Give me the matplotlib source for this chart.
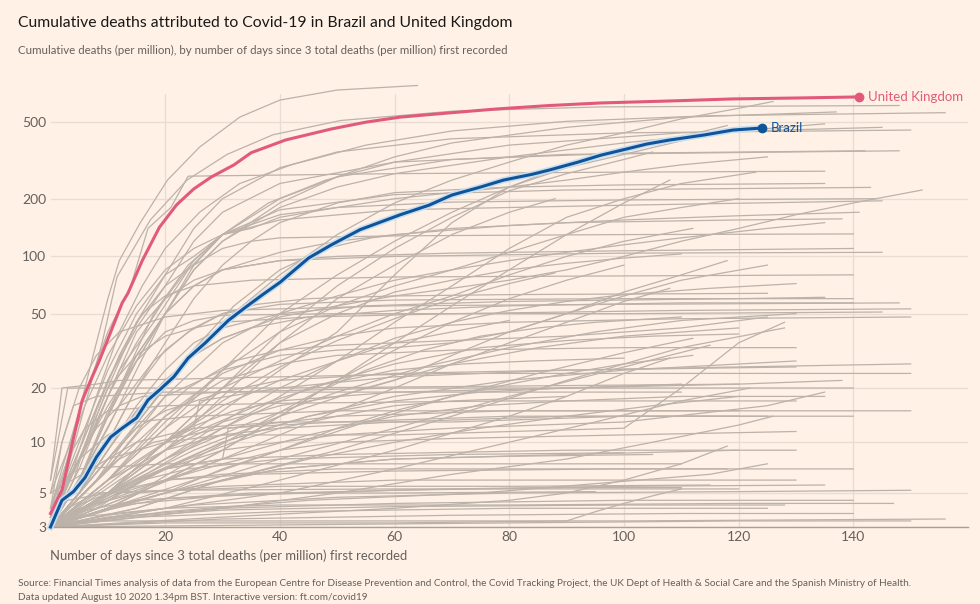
"""
Cumulative Covid-19 deaths per million, Brazil and UK against other countries
"""

import numpy as np
import matplotlib
matplotlib.use("Agg")
import matplotlib.pyplot as plt
import matplotlib.patheffects as pe

# Highlighted countries (day since 3 deaths per million, deaths per million)
uk_days = [0, 2, 4, 5.5, 7, 8.5, 10.5, 12.5, 13.5, 16, 19, 22, 25, 28, 32, 35, 41, 49, 55, 61, 70, 78, 87, 96, 108, 119, 131, 141]
uk_values = [3.7, 5.2, 10.5, 17, 22, 28, 40, 57, 64, 95, 142, 186, 225, 259, 300, 347, 404, 461, 500, 531, 560, 586, 610, 629, 644, 660, 668, 676]

brazil_days = [0, 2, 4, 6, 8, 10.5, 12.5, 15, 17, 19, 21.5, 24, 27, 31, 34, 37, 40, 45, 49, 54, 61, 66, 70, 75, 79, 84, 87, 92, 96, 100, 104, 108, 114, 119, 124]
brazil_values = [3, 4.5, 5.1, 6.2, 8.2, 10.7, 12, 13.7, 17.2, 19.5, 23, 29, 35, 46, 54, 63, 73, 98, 115, 138, 165, 185, 209, 230, 250, 268, 282, 310, 337, 360, 385, 404, 429, 455, 466]

# All other countries, (day, deaths per million)
other_countries = [
    [(0, 3.5), (2, 6), (4, 11), (6, 20), (8, 35), (10, 60), (12, 95), (15.6, 149), (20.4, 250), (26, 371), (33, 531), (40, 651), (50, 734), (64, 775)],
    [(0, 3.2), (3, 7), (6, 16), (9, 35), (11.6, 78), (17.4, 155), (23.8, 250), (30.8, 340), (38.8, 430), (50.6, 510), (70, 570), (96, 600), (148, 610)],
    [(0, 3), (4, 7), (8, 18), (12, 40), (16, 70), (20, 110), (26, 170), (33, 240), (42, 300), (55, 380), (70, 450), (90, 505), (115, 540), (156, 560)],
    [(0, 3.5), (6, 9), (12, 25), (18, 45), (24, 85), (30, 130), (38, 190), (48, 250), (60, 310), (80, 380), (110, 440), (145, 470)],
    [(0, 3), (10, 8), (20, 20), (30, 45), (40, 80), (50, 130), (60, 190), (70, 250), (80, 310), (90, 380), (100, 440), (110, 520), (120, 590), (126, 640)],
    [(0, 3), (5, 6), (10, 12), (15, 25), (20, 50), (25, 85), (30, 120), (40, 190), (50, 260), (60, 330), (70, 390), (90, 470), (110, 530), (137, 565)],
    [(0, 3), (10, 5), (20, 9), (30, 15), (40, 25), (50, 40), (60, 80), (70, 150), (80, 230), (90, 300), (100, 360), (110, 420), (118, 480)],
    [(0, 3), (5, 6), (10, 14), (15, 28), (20, 50), (25, 85), (30, 120), (40, 180), (50, 230), (60, 270), (80, 330), (100, 390), (120, 450), (135, 490)],
    [(0, 3.3), (5, 8), (10, 20), (15, 45), (20, 80), (25, 140), (30, 200), (40, 290), (50, 350), (70, 410), (100, 440), (150, 455)],
    [(0, 3.5), (5, 9), (10, 22), (15, 42), (20, 70), (25, 120), (30, 170), (40, 240), (60, 310), (90, 340), (148, 355)],
    [(0, 3), (5, 6), (10, 14), (15, 28), (20, 50), (25, 90), (30, 130), (40, 200), (50, 260), (70, 320), (100, 345), (142, 355)],
    [(0, 3), (10, 6), (20, 12), (30, 25), (40, 50), (50, 80), (60, 120), (70, 170), (80, 230), (90, 290), (100, 340), (110, 400)],
    [(0, 3.5), (5, 10), (10, 25), (15, 50), (20, 80), (25, 100), (30, 130), (35, 140), (40, 160), (50, 180), (60, 200), (70, 215), (80, 230), (90, 250), (100, 275), (110, 300), (125, 330)],
    [(0, 3), (10, 5), (20, 10), (30, 20), (40, 40), (50, 70), (60, 110), (70, 160), (80, 220), (90, 270), (100, 320), (105, 350)],
    [(0, 4), (5, 15), (10, 40), (14, 70), (17, 140), (21, 180), (24, 262), (60, 270), (100, 275), (135, 278)],
    [(0, 3), (5, 5), (10, 9), (15, 15), (20, 22), (25, 30), (30, 37), (40, 48), (50, 55), (60, 62), (70, 68), (80, 75), (90, 85), (100, 100), (110, 120), (120, 140), (130, 165), (140, 190), (152, 222)],
    [(0, 3.5), (5, 8), (10, 18), (15, 35), (20, 60), (25, 95), (30, 130), (40, 175), (60, 210), (90, 222), (143, 229)],
    [(0, 3), (6, 7), (12, 20), (18, 50), (24, 90), (30, 130), (40, 165), (50, 180), (70, 192), (100, 197), (144, 200)],
    [(0, 3), (5, 5), (10, 10), (15, 20), (20, 35), (25, 60), (30, 90), (35, 120), (40, 150), (50, 190), (60, 215), (80, 230), (100, 236), (135, 240)],
    [(0, 3), (10, 5), (20, 8), (30, 12), (40, 18), (50, 28), (60, 45), (70, 70), (80, 110), (90, 160), (100, 200), (110, 240), (123, 275)],
    [(0, 3), (10, 6), (20, 13), (30, 25), (40, 40), (50, 55), (60, 70), (70, 85), (80, 105), (90, 130), (100, 160), (110, 180), (120, 200)],
    [(0, 3), (10, 4), (20, 6), (30, 9), (40, 14), (50, 22), (60, 35), (70, 55), (80, 85), (90, 130), (100, 190), (108, 250)],
    [(0, 3), (10, 5), (20, 9), (30, 18), (40, 35), (50, 60), (60, 90), (70, 130), (80, 170), (88, 200)],
    [(0, 3), (5, 6), (10, 15), (15, 30), (20, 50), (25, 70), (30, 85), (40, 105), (50, 120), (60, 130), (80, 145), (100, 155), (120, 163), (141, 170)],
    [(0, 5), (3, 9), (6, 16), (10, 30), (15, 55), (20, 85), (25, 110), (30, 130), (40, 155), (60, 175), (100, 185), (145, 195)],
    [(0, 3), (8, 6), (16, 14), (24, 30), (32, 55), (40, 85), (48, 110), (56, 125), (70, 140), (90, 150), (120, 155), (138, 157)],
    [(0, 3), (10, 6), (20, 12), (30, 20), (40, 28), (50, 38), (60, 50), (70, 62), (80, 80), (90, 100), (100, 120), (112, 140)],
    [(0, 3), (10, 7), (20, 18), (30, 35), (40, 50), (50, 62), (60, 75), (70, 85), (80, 95), (90, 105), (100, 115), (110, 125), (125, 140), (135, 150)],
    [(0, 3.5), (5, 9), (10, 22), (15, 45), (20, 70), (25, 90), (30, 110), (35, 120), (40, 125), (60, 128), (100, 130), (140, 131)],
    [(0, 3), (5, 6), (10, 14), (15, 30), (20, 50), (25, 70), (30, 85), (40, 95), (50, 100), (70, 104), (100, 107), (140, 110)],
    [(0, 3), (5, 7), (10, 18), (15, 40), (20, 60), (25, 75), (30, 85), (40, 95), (60, 100), (100, 104), (145, 105)],
    [(0, 3), (4, 6), (8, 15), (12, 30), (16, 50), (20, 62), (25, 70), (35, 75), (60, 78), (100, 79), (140, 80)],
    [(0, 3), (10, 5), (20, 10), (30, 20), (40, 35), (50, 50), (60, 65), (70, 75), (80, 85), (90, 92), (100, 98), (110, 103)],
    [(0, 3), (10, 5), (20, 8), (30, 13), (40, 20), (50, 28), (60, 37), (70, 45), (80, 52), (90, 58), (100, 63), (115, 68), (130, 72)],
    [(0, 4), (2, 10), (5, 20), (8, 30), (12, 40), (20, 48), (30, 52), (60, 55), (100, 56), (148, 57)],
    [(0, 3), (5, 5), (10, 9), (15, 16), (20, 25), (25, 35), (30, 42), (40, 50), (55, 55), (80, 58), (120, 60), (135, 61)],
    [(0, 5), (10, 8), (20, 10), (30, 11), (60, 11), (100, 12), (110, 20), (120, 35), (128, 45)],
    [(0, 3), (15, 5), (25, 8), (35, 12), (45, 18), (55, 25), (65, 32), (75, 38), (85, 42), (95, 45), (110, 48)],
    [(0, 3), (10, 6), (20, 14), (30, 24), (40, 32), (50, 38), (60, 42), (80, 45), (110, 47), (150, 48)],
    [(0, 3), (8, 6), (16, 12), (24, 20), (32, 28), (40, 32), (50, 34), (70, 36), (90, 38), (110, 42), (125, 48)],
    [(0, 3), (5, 5), (10, 9), (15, 15), (20, 22), (25, 30), (30, 37), (35, 42), (45, 48), (60, 52), (80, 55), (110, 57), (140, 57)],
    [(0, 3), (10, 5), (20, 9), (30, 13), (40, 16), (50, 18), (60, 22), (70, 30), (80, 40), (90, 50), (100, 62), (110, 75), (125, 90)],
    [(0, 3), (10, 4), (20, 6), (30, 9), (40, 14), (50, 22), (60, 32), (70, 45), (80, 60), (90, 75), (100, 90)],
    [(0, 3), (10, 5), (20, 10), (30, 17), (40, 26), (50, 36), (60, 47), (70, 60), (80, 72), (88, 82)],
    [(0, 3.5), (5, 8), (10, 16), (15, 28), (20, 40), (25, 46), (30, 49), (50, 50), (100, 50), (145, 51)],
    [(0, 3), (5, 5), (10, 10), (15, 20), (20, 32), (25, 42), (30, 50), (40, 56), (60, 59), (100, 60), (140, 60)],
    [(0, 3), (6, 7), (12, 16), (18, 28), (24, 40), (30, 50), (36, 56), (45, 60), (60, 62), (80, 63), (125, 64)],
    [(0, 3), (10, 8), (20, 18), (30, 25), (40, 30), (50, 32), (60, 33), (70, 35), (80, 40), (90, 50), (100, 65), (110, 80), (118, 95)],
    [(0, 3), (15, 6), (30, 12), (45, 20), (60, 27), (75, 33), (90, 36), (105, 38), (120, 39)],
    [(0, 3), (10, 5), (20, 10), (30, 16), (40, 22), (50, 28), (60, 35), (70, 40), (80, 46)],
    [(0, 3), (10, 4), (20, 6), (30, 8), (40, 11), (50, 15), (60, 20), (70, 27), (80, 35), (90, 45), (100, 58), (108, 68)],
    [(0, 6), (2, 20), (8, 21), (12, 22), (40, 23), (70, 24), (110, 24), (150, 24)],
    [(0, 3), (5, 8), (10, 20), (15, 30), (20, 38), (25, 42), (30, 45), (45, 48), (70, 50), (110, 52), (150, 53)],
    [(0, 3), (5, 5), (10, 8), (15, 12), (20, 15), (30, 19), (40, 22), (60, 24), (90, 25), (130, 26)],
    [(0, 3), (10, 4), (20, 5), (30, 7), (40, 9), (50, 12), (60, 15), (70, 18), (80, 21), (90, 24), (100, 27), (112, 30)],
    [(0, 3.5), (4, 7), (8, 12), (12, 16), (16, 18), (30, 19), (60, 20), (100, 20), (140, 20)],
    [(0, 6), (1, 9), (3, 20), (40, 20), (120, 21)],
    [(0, 3), (15, 5), (30, 8), (45, 11), (60, 14), (75, 16), (90, 17), (110, 18), (135, 18)],
    [(0, 3), (10, 6), (20, 9), (30, 11), (40, 12), (60, 13), (90, 14), (125, 14)],
    [(0, 3), (20, 4), (40, 6), (60, 9), (80, 14), (90, 18), (100, 24), (108, 29)],
    [(0, 3), (8, 5), (16, 8), (24, 12), (32, 15), (40, 17), (60, 19), (90, 20), (120, 21), (138, 22)],
    [(0, 4), (5, 8), (10, 11), (15, 13), (25, 14), (50, 15), (100, 15), (150, 15)],
    [(0, 3), (10, 7), (20, 14), (30, 22), (40, 27), (50, 30), (70, 32), (100, 33), (130, 33)],
    [(0, 3), (6, 5), (12, 8), (18, 10), (30, 12), (50, 13), (80, 14), (120, 14)],
    [(0, 3), (10, 5), (20, 7), (30, 9), (40, 10), (50, 11), (70, 12), (100, 13), (125, 16), (135, 19)],
    [(0, 3), (20, 7), (30, 8), (31, 12), (50, 14), (80, 15), (120, 15)],
    [(0, 3), (12, 6), (24, 11), (36, 16), (48, 21), (60, 25), (72, 27), (84, 28), (100, 29)],
    [(0, 5), (2, 10), (4, 16), (8, 18), (20, 19), (60, 19), (110, 19)],
    [(0, 3), (15, 4), (30, 6), (45, 8), (60, 10), (75, 12), (90, 14), (105, 16), (120, 18)],
    [(0, 3), (5, 5), (10, 8), (15, 10), (25, 12), (40, 13), (70, 13), (100, 14), (140, 14)],
    [(0, 3), (10, 4.5), (20, 7), (30, 10), (45, 14), (60, 17), (75, 19), (90, 20), (110, 21)],
    [(0, 3), (10, 6), (20, 10), (25, 12), (26, 17), (40, 20), (60, 23), (90, 25), (120, 26), (150, 27)],
    [(0, 4), (3, 8), (6, 12), (10, 15), (20, 16), (40, 16.5), (80, 17), (130, 17)],
    [(0, 3), (8, 4), (16, 6), (24, 8), (32, 10), (40, 12), (50, 14), (60, 16), (70, 17), (90, 18)],
    [(0, 3), (20, 5), (40, 8), (60, 12), (80, 18), (100, 26), (115, 34)],
    [(0, 3), (15, 4), (30, 6), (50, 9), (70, 14), (90, 22), (110, 33), (128, 42)],
    [(0, 3), (10, 5), (25, 9), (40, 14), (55, 20), (70, 27), (85, 33), (100, 38), (120, 42)],
    [(0, 3), (20, 4), (40, 5), (60, 7), (80, 10), (95, 13), (110, 17), (122, 20)],
    [(0, 3), (10, 4), (25, 6), (40, 9), (55, 13), (70, 18), (85, 24), (100, 31), (112, 37)],
    [(0, 3), (15, 6), (30, 10), (45, 14), (60, 18), (80, 22), (100, 25), (130, 28)],
    [(0, 3), (30, 4), (50, 5), (70, 6.5), (90, 8), (105, 10), (120, 12.5), (126, 14)],
    [(0, 3), (10, 5), (20, 8), (35, 13), (50, 19), (65, 26), (80, 33), (95, 40), (110, 46), (130, 50)],
    [(0, 3), (10, 3.5), (30, 4), (60, 4.3), (100, 4.5), (140, 4.5)],
    [(0, 3), (5, 4), (15, 5), (30, 5.5), (60, 6), (100, 6), (130, 6)],
    [(0, 3), (10, 4), (20, 5), (30, 6), (40, 7), (60, 8), (90, 8.5), (120, 9)],
    [(0, 3), (3, 4), (8, 5), (20, 5.2), (60, 5.3), (120, 5.3)],
    [(0, 3.3), (50, 3.3), (100, 3.3), (156, 3.4)],
    [(0, 3), (20, 3.2), (60, 3.2), (90, 3.3), (95, 3.8), (100, 4.3), (105, 4.8), (110, 5.3)],
    [(0, 3), (5, 3.5), (20, 4), (40, 4.2), (80, 4.2), (120, 4.3), (147, 4.3)],
    [(0, 3), (10, 5), (20, 7), (30, 8), (50, 8.5), (90, 9), (130, 9)],
    [(0, 4), (2, 6), (5, 7), (20, 7.5), (60, 7.5), (110, 7.5)],
    [(0, 3), (15, 3.5), (40, 3.8), (80, 4), (125, 4)],
    [(0, 3), (6, 4), (12, 5), (20, 6), (30, 6.5), (50, 7), (80, 7), (118, 7)],
    [(0, 3), (10, 3.6), (25, 4.2), (50, 4.7), (80, 5), (120, 5.1), (150, 5.2)],
    [(0, 3), (8, 4.5), (16, 6), (24, 7), (40, 8), (70, 8.5), (100, 8.7)],
    [(0, 3), (30, 3.4), (70, 3.6), (110, 3.7), (140, 3.7)],
    [(0, 3), (10, 4), (20, 4.6), (40, 5), (70, 5.3), (100, 5.5), (135, 5.6)],
    [(0, 3.5), (3, 4.5), (10, 5), (40, 5.5), (80, 5.5), (115, 5.6)],
    [(0, 3), (20, 5), (40, 7), (60, 8), (80, 8.3), (105, 8.5)],
    [(0, 3), (5, 3.8), (15, 4.5), (35, 5), (60, 5), (95, 5.1)],
    [(0, 3), (12, 3.5), (30, 3.9), (60, 4.1), (100, 4.2), (128, 4.2)],
    [(0, 3), (10, 4.5), (20, 6), (30, 7.5), (40, 9), (50, 10), (70, 10.5), (100, 11), (130, 11.5)],
    [(0, 3), (40, 3.1), (80, 3.2), (120, 3.3), (150, 3.3)],
    [(0, 3), (20, 3.8), (45, 4.5), (75, 5), (115, 6.5), (125, 7.5)],
    [(0, 3), (30, 3.5), (60, 4), (80, 4.5), (90, 5), (100, 6), (110, 7.5), (118, 9.5)],
    [(0, 3), (5, 4.2), (10, 5), (20, 6), (35, 6.5), (60, 6.8), (100, 7), (140, 7)],
    [(0, 3.2), (15, 4.3), (30, 4.8), (60, 5.2), (90, 5.4), (110, 5.4)],
]

x_ticks = [20, 40, 60, 80, 100, 120, 140]
y_ticks = [3, 5, 10, 20, 50, 100, 200, 500]

title = "Cumulative deaths attributed to Covid-19 in Brazil and United Kingdom"
subtitle = "Cumulative deaths (per million), by number of days since 3 total deaths (per million) first recorded"
x_label = "Number of days since 3 total deaths (per million) first recorded"
source = ("Source: Financial Times analysis of data from the European Centre for Disease Prevention and Control, "
          "the Covid Tracking Project, the UK Dept of Health & Social Care and the Spanish Ministry of Health.")
updated = "Data updated August 10 2020 1.34pm BST. Interactive version: ft.com/covid19"

# Colours
BG = "#fff1e5"
GREY_LINE = "#bcb2aa"
GRID = "#e9ddd3"
TEXT = "#66605c"
UK_COL = "#e25a7a"
BR_COL = "#0f5499"

plt.rcParams["font.family"] = ["Lato", "DejaVu Sans"]

fig = plt.figure(figsize=(9.8, 6.04), dpi=100, facecolor=BG)
ax = fig.add_axes([50.5 / 980, 1 - 527 / 604, (968 - 50.5) / 980, (527 - 94) / 604])
ax.set_facecolor(BG)

# Log scale on (deaths + 1)
def fwd(v):
    return np.log10(np.maximum(np.asarray(v, dtype=float) + 1, 1e-6))

def inv(v):
    return 10 ** np.asarray(v, dtype=float) - 1

ax.set_yscale("function", functions=(fwd, inv))

for pts in other_countries:
    d, v = zip(*pts)
    ax.plot(d, v, color=GREY_LINE, lw=0.9, clip_on=False, zorder=2)

ax.plot(uk_days, uk_values, color=UK_COL, lw=2.2, zorder=4, clip_on=False)
ax.plot(uk_days[-1], uk_values[-1], "o", ms=6, color=UK_COL, zorder=5, clip_on=False)
ax.annotate("United Kingdom", (uk_days[-1], uk_values[-1]), xytext=(6.5, 0), textcoords="offset points",
            va="center", ha="left", color=UK_COL, fontsize=9.5)

ax.plot(brazil_days, brazil_values, color=BR_COL, lw=2.2, zorder=4, clip_on=False,
        path_effects=[pe.Stroke(linewidth=4.5, foreground="#c9def0"), pe.Normal()])
ax.plot(brazil_days[-1], brazil_values[-1], "o", ms=6, color=BR_COL, zorder=5, clip_on=False)
ax.annotate("Brazil", (brazil_days[-1], brazil_values[-1]), xytext=(6.5, 0), textcoords="offset points",
            va="center", ha="left", color=BR_COL, fontsize=9.5)

# Axes
ax.set_xlim(0, 160)
ax.set_ylim(3, 700)
ax.set_xticks(x_ticks)
ax.set_yticks(y_ticks)
ax.set_yticklabels([str(t) for t in y_ticks])
ax.minorticks_off()
ax.grid(True, color=GRID, lw=1, zorder=0)
ax.set_axisbelow(True)
ax.tick_params(axis="both", length=0, labelsize=10, labelcolor=TEXT)
ax.tick_params(axis="x", pad=3)
ax.tick_params(axis="y", pad=3)
for s in ["top", "right", "left"]:
    ax.spines[s].set_visible(False)
ax.spines["bottom"].set_color("#a99f97")
ax.spines["bottom"].set_linewidth(1)

# Text
fig.text(18 / 980, 1 - 23 / 604, title, fontsize=11.3, color="#1a1817", va="center", ha="left")
fig.text(18 / 980, 1 - 50 / 604, subtitle, fontsize=8.3, color=TEXT, va="center", ha="left")
fig.text(50 / 980, 1 - 556 / 604, x_label, fontsize=9.4, color=TEXT, va="center", ha="left")
fig.text(18 / 980, 1 - 584 / 604, source, fontsize=7.2, color=TEXT, va="center", ha="left")
fig.text(18 / 980, 1 - 597 / 604, updated, fontsize=7.2, color=TEXT, va="center", ha="left")

plt.savefig("out.png", dpi=100, facecolor=BG)
